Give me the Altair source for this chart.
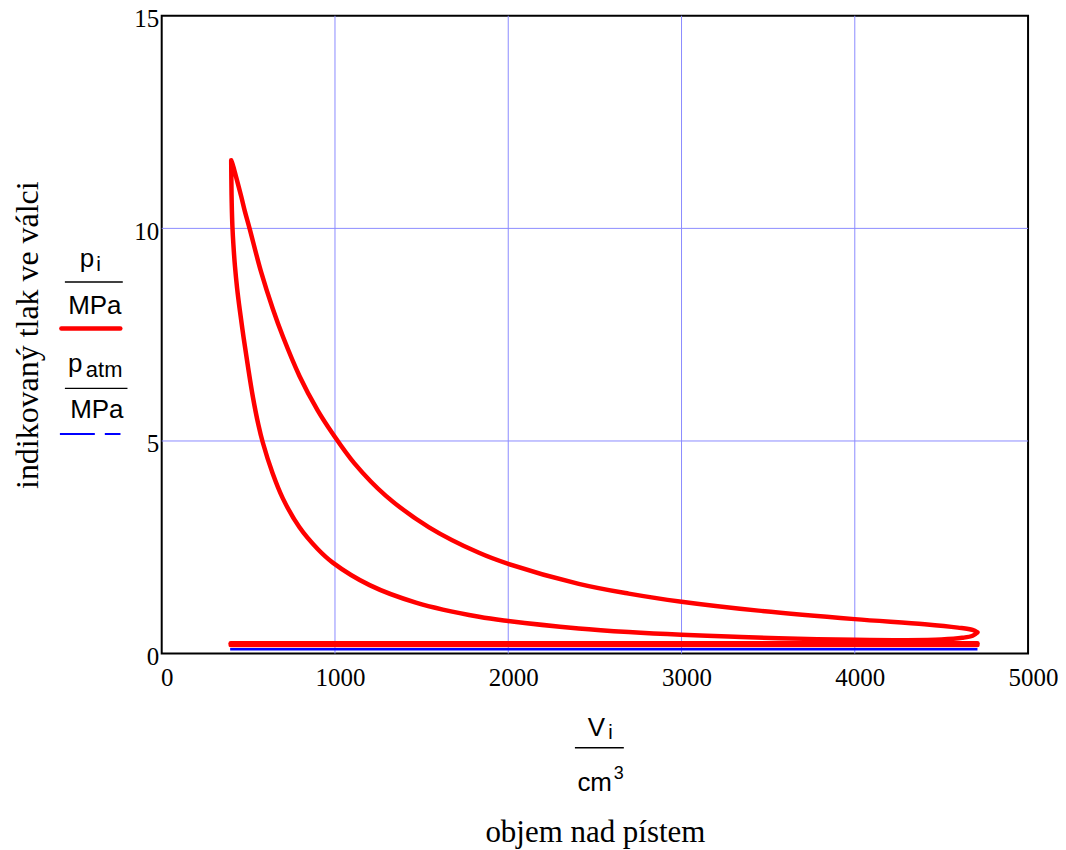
import altair as alt
import pandas as pd

# ---------------- data ----------------
# compression line (lower branch), from the right-hand tip up to the peak
V_comp = [4708, 4680, 4620, 4500, 4300, 4000, 3560, 3270, 3000, 2695, 2407, 2000, 1831,
          1467, 1200, 987, 900, 795, 699, 640, 583, 558, 526, 497, 472, 450, 435, 423,
          414, 408, 404, 402, 401]
p_comp = [0.50, 0.42, 0.37, 0.33, 0.315, 0.325, 0.36, 0.40, 0.44, 0.505, 0.59, 0.765, 0.865,
          1.20, 1.61, 2.14, 2.46, 2.97, 3.65, 4.24, 4.97, 5.38, 6.04, 6.77, 7.45, 8.1,
          8.6, 9.1, 9.6, 10.05, 10.6, 11.15, 11.6]
# combustion / expansion line (upper branch), from the peak to the right-hand tip
V_exp = [401, 410, 430, 459, 480, 507, 574, 641, 700, 795, 900, 987, 1111, 1294, 1543,
         1831, 2000, 2407, 2695, 3000, 3444, 4000, 4404, 4595, 4680, 4708]
p_exp = [11.6, 11.5, 11.2, 10.75, 10.4, 10.0, 8.97, 8.11, 7.45, 6.53, 5.72, 5.17, 4.48,
         3.71, 2.97, 2.37, 2.11, 1.64, 1.41, 1.22, 1.01, 0.81, 0.69, 0.61, 0.555, 0.50]
# gas exchange (exhaust and intake strokes)
V_gas = [398, 4708]
p_exhaust = [0.245, 0.245]
p_intake = [0.20, 0.20]
# atmospheric pressure
V_atm = [395, 4708]
p_atm = [0.1, 0.1]

x_ticks = [0, 1000, 2000, 3000, 4000, 5000]
y_ticks = [0, 5, 10, 15]
x_grid = [1000, 2000, 3000, 4000]
y_grid = [5, 10]

# ---------------- tables ----------------
loop_V = V_comp + V_exp
loop_p = p_comp + p_exp
df_loop = pd.DataFrame({"V": loop_V, "p": loop_p, "o": list(range(len(loop_V)))})
df_gas = pd.DataFrame({
    "V": V_gas + V_gas,
    "p": p_exhaust + p_intake,
    "s": ["exhaust"] * len(V_gas) + ["intake"] * len(V_gas),
})
df_atm = pd.DataFrame({"V": V_atm, "p": p_atm})

W, H = 868, 639
SERIF = "Liberation Serif"
SANS = "Liberation Sans"

xscale = alt.Scale(domain=[0, 5000], nice=False, zero=False)
yscale = alt.Scale(domain=[0, 15], nice=False, zero=False)

xaxis = alt.Axis(values=x_ticks, grid=False, ticks=False, domain=False,
                 labelFont=SERIF, labelFontSize=25, labelColor="black",
                 labelPadding=12, labelOffset=5, labelFlush=False, labelOverlap=False,
                 format="d",
                 title="objem nad pístem", titleFont=SERIF, titleFontSize=31,
                 titleFontWeight="normal", titleColor="black",
                 titleX=434, titleY=188, titleBaseline="alphabetic", titleAlign="center")
yaxis = alt.Axis(values=y_ticks, grid=False, ticks=False, domain=False,
                 labelFont=SERIF, labelFontSize=25, labelColor="black",
                 labelPadding=3, labelOffset=3, labelFlush=False, labelOverlap=False,
                 format="d",
                 title="indikovaný tlak ve válci", titleFont=SERIF, titleFontSize=32,
                 titleFontWeight="normal", titleColor="black",
                 titleX=-134, titleY=319.5, titleAngle=270,
                 titleBaseline="middle", titleAlign="center")

grid_v = alt.Chart(pd.DataFrame({"V": x_grid})).mark_rule(
    color="#8c8cff", strokeWidth=1).encode(
    x=alt.X("V:Q", scale=xscale, axis=xaxis))
grid_h = alt.Chart(pd.DataFrame({"p": y_grid})).mark_rule(
    color="#8c8cff", strokeWidth=1).encode(
    y=alt.Y("p:Q", scale=yscale, axis=yaxis))

atm = alt.Chart(df_atm).mark_line(color="#0000ff", strokeWidth=2.6).encode(
    x=alt.X("V:Q", scale=xscale), y=alt.Y("p:Q", scale=yscale))
gas = alt.Chart(df_gas).mark_line(color="#ff0000", strokeWidth=4.5,
                                  strokeCap="round").encode(
    x=alt.X("V:Q", scale=xscale), y=alt.Y("p:Q", scale=yscale), detail="s:N")
loop = alt.Chart(df_loop).mark_line(color="#ff0000", strokeWidth=4.5,
                                    strokeCap="round", strokeJoin="round",
                                    interpolate="catmull-rom").encode(
    x=alt.X("V:Q", scale=xscale), y=alt.Y("p:Q", scale=yscale), order="o:Q")

one = pd.DataFrame({"a": [0]})


def txt(s, x, y, size=26, align="center", font=SANS):
    return alt.Chart(one).mark_text(text=s, font=font, fontSize=size, align=align,
                                    baseline="alphabetic", color="black").encode(
        x=alt.value(x), y=alt.value(y))


def hline(x1, x2, y, color="black", width=1.5, dash=None, cap="butt"):
    kw = dict(color=color, strokeWidth=width, strokeCap=cap)
    if dash:
        kw["strokeDash"] = dash
    return alt.Chart(one).mark_rule(**kw).encode(
        x=alt.value(x1), x2=alt.value(x2), y=alt.value(y))


legend = [
    txt("p", -82, 252, align="left"),
    txt("i", -65.5, 256, size=21, align="left"),
    hline(-97, -39, 266.7),
    txt("MPa", -67, 298.3),
    hline(-100.5, -41.5, 313.3, color="#ff0000", width=4.5, cap="round"),
    txt("p", -94, 357, align="left"),
    txt("atm", -76, 362, size=22, align="left"),
    hline(-97, -34.3, 373.3),
    txt("MPa", -65, 403.3),
    hline(-102, -41.3, 419, color="#0000ff", width=2, dash=[35, 10]),
]
xfrac = [
    txt("V", 435.5, 721.7),
    txt("i", 447.5, 725, size=20, align="left"),
    hline(414, 463, 733.3),
    txt("cm", 433.8, 776.7),
    txt("3", 453, 764.6, size=18, align="left"),
]

chart = alt.layer(grid_v, grid_h, atm, gas, loop, *legend, *xfrac).properties(
    width=W, height=H,
    autosize=alt.AutoSizeParams(type="none"),
    padding={"left": 154, "top": 7, "right": 30, "bottom": 195},
).configure_view(stroke="black", strokeWidth=2)

chart.save("out.html", embed_options={"renderer": "svg", "actions": False})
